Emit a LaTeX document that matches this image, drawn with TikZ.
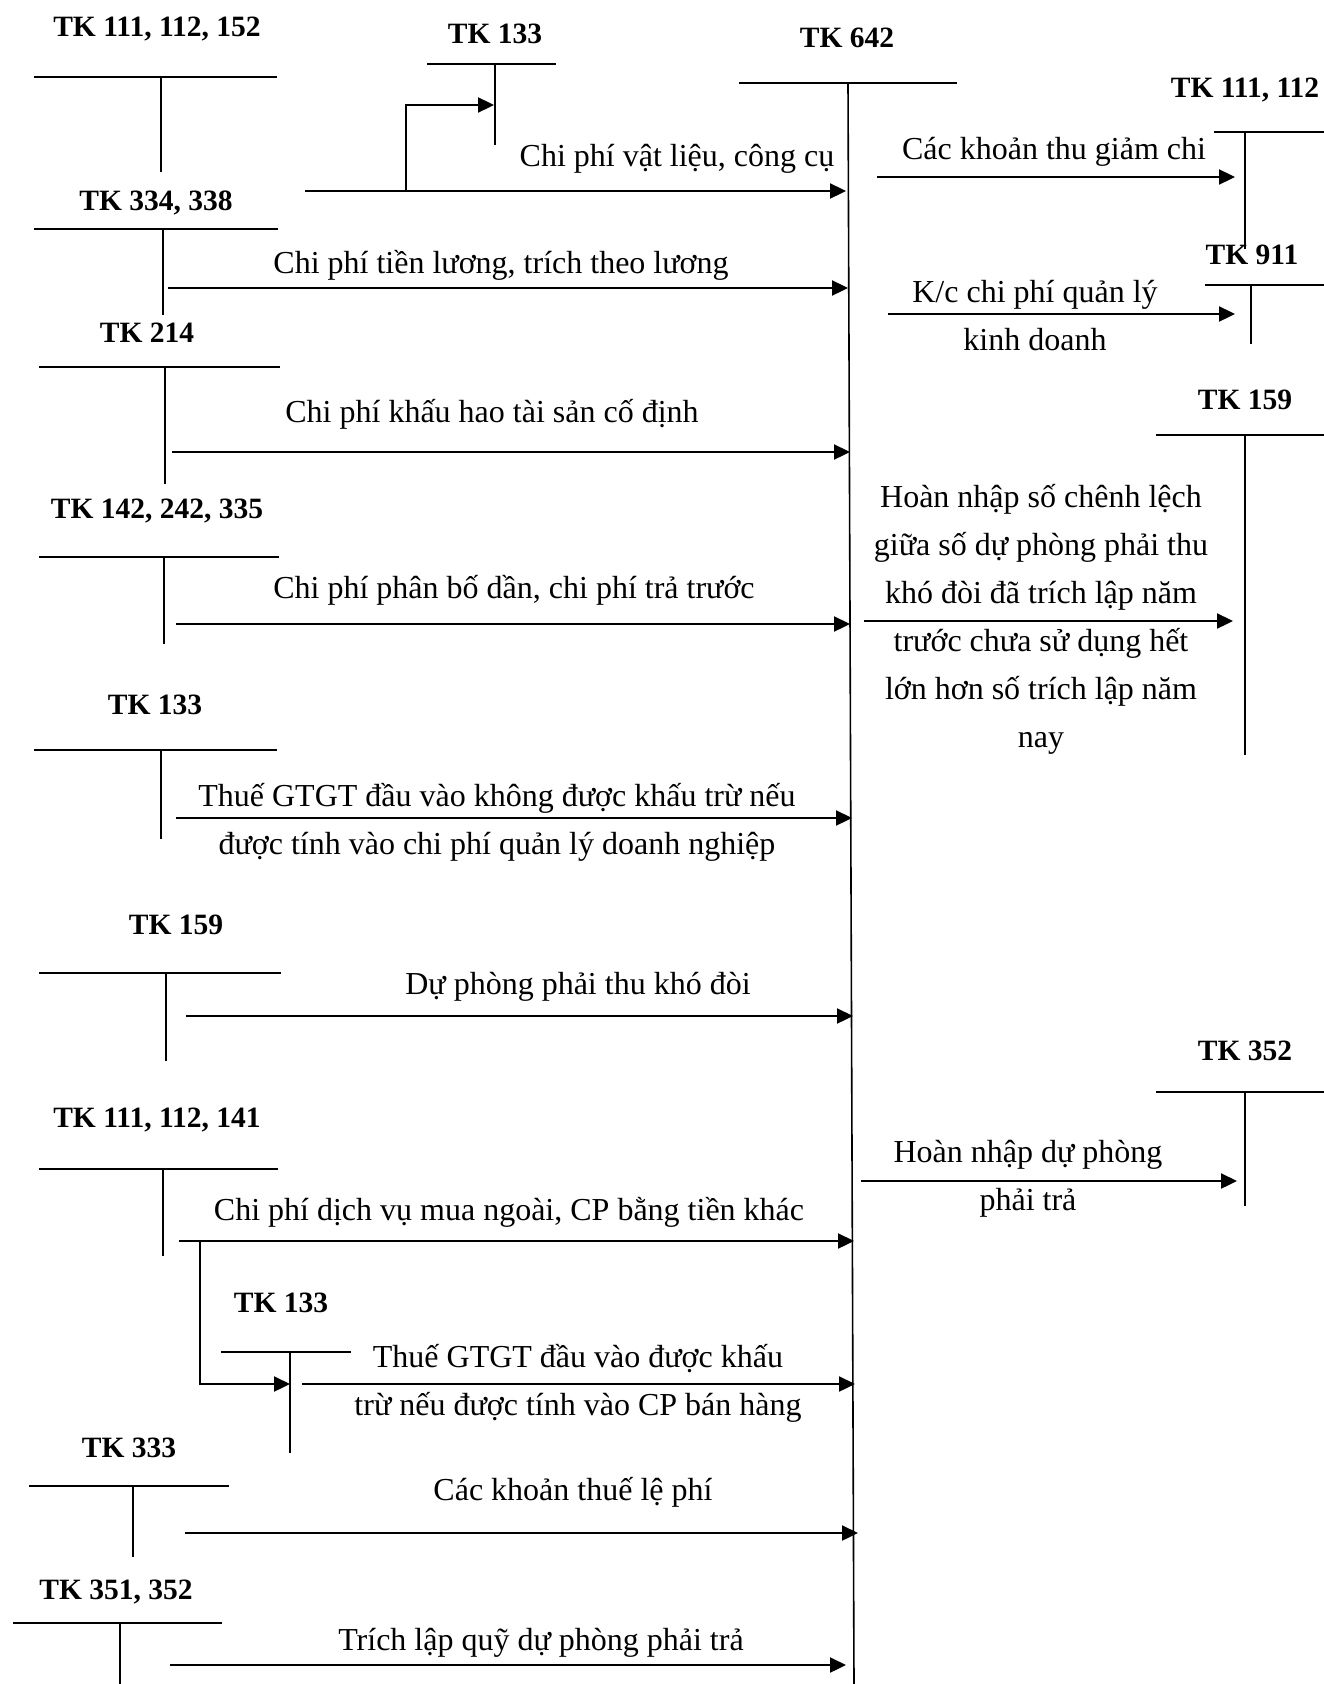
\documentclass[tikz,border=0pt]{standalone}
\usepackage{fontspec}
\setmainfont{Liberation Serif}
\usetikzlibrary{arrows.meta}
\begin{document}
\begin{tikzpicture}[x=1pt,y=-1pt,
  hdr/.style={font=\fontsize{29.5}{34}\selectfont\bfseries, inner sep=0pt, yshift=-2.5pt},
  lbl/.style={font=\fontsize{32}{48}\selectfont, align=center, inner sep=0pt, yshift=-2.5pt},
  tbar/.style={line width=1.8pt},
  tstem/.style={line width=1.6pt},
  flow/.style={line width=2.3pt, -{Triangle[length=16pt,width=15pt]}},
]
\useasboundingbox (0,0) rectangle (1324,1684);

% ---------- account headers ----------
\node[hdr] (h111a) at (157,27)   {TK 111, 112, 152};
\node[hdr] (h133a) at (495,31)   {TK 133};
\node[hdr] (h642)  at (847,35)   {TK 642};
\node[hdr] (h111r) at (1245,88)  {TK 111, 112};
\node[hdr] (h334)  at (156,200)  {TK 334, 338};
\node[hdr] (h911)  at (1252,252) {TK 911};
\node[hdr] (h214)  at (147,330)  {TK 214};
\node[hdr] (h159r) at (1245,397) {TK 159};
\node[hdr] (h142)  at (157,509)  {TK 142, 242, 335};
\node[hdr] (h133b) at (155,702)  {TK 133};
\node[hdr] (h159l) at (176,922)  {TK 159};
\node[hdr] (h352r) at (1245,1048){TK 352};
\node[hdr] (h111b) at (157,1118) {TK 111, 112, 141};
\node[hdr] (h133c) at (281,1300) {TK 133};
\node[hdr] (h333)  at (129,1445) {TK 333};
\node[hdr] (h351)  at (116,1589) {TK 351, 352};

% ---------- T-account shapes ----------
% top bar and stem of each account
\draw[tbar] (34,77) -- (277,77);      \draw[tstem] (161,77) -- (161,172);
\draw[tbar] (427,64) -- (556,64);     \draw[tstem] (495,64) -- (495,145);
\draw[tbar] (739,83) -- (957,83);     \draw[tstem] (848,83) -- (854,1684);
\draw[tbar] (1214,132) -- (1324,132); \draw[tstem] (1245,132) -- (1245,249);
\draw[tbar] (34,229) -- (278,229);    \draw[tstem] (163,229) -- (163,315);
\draw[tbar] (1205,285) -- (1324,285); \draw[tstem] (1251,285) -- (1251,344);
\draw[tbar] (39,367) -- (280,367);    \draw[tstem] (165,367) -- (165,484);
\draw[tbar] (1156,435) -- (1324,435); \draw[tstem] (1245,435) -- (1245,755);
\draw[tbar] (39,557) -- (279,557);    \draw[tstem] (164,557) -- (164,644);
\draw[tbar] (34,750) -- (277,750);    \draw[tstem] (161,750) -- (161,839);
\draw[tbar] (39,973) -- (281,973);    \draw[tstem] (166,973) -- (166,1061);
\draw[tbar] (1156,1092) -- (1324,1092); \draw[tstem] (1245,1092) -- (1245,1206);
\draw[tbar] (39,1169) -- (278,1169);  \draw[tstem] (163,1169) -- (163,1256);
\draw[tbar] (221,1352) -- (351,1352); \draw[tstem] (290,1352) -- (290,1453);
\draw[tbar] (29,1486) -- (229,1486);  \draw[tstem] (133,1486) -- (133,1557);
\draw[tbar] (13,1623) -- (222,1623);  \draw[tstem] (120,1623) -- (120,1684);

% ---------- arrow end points ----------
\coordinate (a1) at (305,191);  \coordinate (b1) at (846,191);
\coordinate (br1) at (406,191); \coordinate (t133a) at (494,105);
\coordinate (a2) at (168,288);  \coordinate (b2) at (848,288);
\coordinate (a3) at (172,452);  \coordinate (b3) at (850,452);
\coordinate (a4) at (176,624);  \coordinate (b4) at (850,624);
\coordinate (a5) at (176,818);  \coordinate (b5) at (852,818);
\coordinate (a6) at (186,1016); \coordinate (b6) at (853,1016);
\coordinate (a7) at (179,1241); \coordinate (b7) at (854,1241);
\coordinate (br7) at (200,1241); \coordinate (t133c) at (290,1384);
\coordinate (a8) at (302,1384); \coordinate (b8) at (855,1384);
\coordinate (a9) at (185,1533); \coordinate (b9) at (858,1533);
\coordinate (a10) at (170,1665); \coordinate (b10) at (846,1665);
\coordinate (c1) at (877,177);  \coordinate (d1) at (1235,177);
\coordinate (c2) at (888,314);  \coordinate (d2) at (1235,314);
\coordinate (c3) at (864,621);  \coordinate (d3) at (1233,621);
\coordinate (c4) at (861,1181); \coordinate (d4) at (1237,1181);

% ---------- flows into TK 642 ----------
\draw[flow] (a1) -- (b1);
\draw[flow] (br1) |- (t133a);
\draw[flow] (a2) -- (b2);
\draw[flow] (a3) -- (b3);
\draw[flow] (a4) -- (b4);
\draw[flow] (a5) -- (b5);
\draw[flow] (a6) -- (b6);
\draw[flow] (a7) -- (b7);
\draw[flow] (br7) |- (t133c);
\draw[flow] (a8) -- (b8);
\draw[flow] (a9) -- (b9);
\draw[flow] (a10) -- (b10);

% ---------- flows out of TK 642 ----------
\draw[flow] (c1) -- (d1);
\draw[flow] (c2) -- (d2);
\draw[flow] (c3) -- (d3);
\draw[flow] (c4) -- (d4);

% ---------- labels ----------
\node[lbl] (l1) at (677,156) {Chi phí vật liệu, công cụ};
\node[lbl] (l2) at (501,263) {Chi phí tiền lương, trích theo lương};
\node[lbl] (l3) at (492,412) {Chi phí khấu hao tài sản cố định};
\node[lbl] (l4) at (514,588) {Chi phí phân bố dần, chi phí trả trước};
\node[lbl] (l5) at (497,820) {Thuế GTGT đầu vào không được khấu trừ nếu\\được tính vào chi phí quản lý doanh nghiệp};
\node[lbl] (l6) at (578,984) {Dự phòng phải thu khó đòi};
\node[lbl] (l7) at (509,1210) {Chi phí dịch vụ mua ngoài, CP bằng tiền khác};
\node[lbl] (l8) at (578,1381) {Thuế GTGT đầu vào được khấu\\trừ nếu được tính vào CP bán hàng};
\node[lbl] (l9) at (573,1490) {Các khoản thuế lệ phí};
\node[lbl] (l10) at (541,1640) {Trích lập quỹ dự phòng phải trả};
\node[lbl] (r1) at (1054,149) {Các khoản thu giảm chi};
\node[lbl] (r2) at (1035,313) {K/c chi phí quản lý\\kinh doanh};
\node[lbl] (r3) at (1041,617) {Hoàn nhập số chênh lệch\\giữa số dự phòng phải thu\\khó đòi đã trích lập năm\\trước chưa sử dụng hết\\lớn hơn số trích lập năm\\nay};
\node[lbl] (r4) at (1028,1176) {Hoàn nhập dự phòng\\phải trả};
\end{tikzpicture}
\end{document}
